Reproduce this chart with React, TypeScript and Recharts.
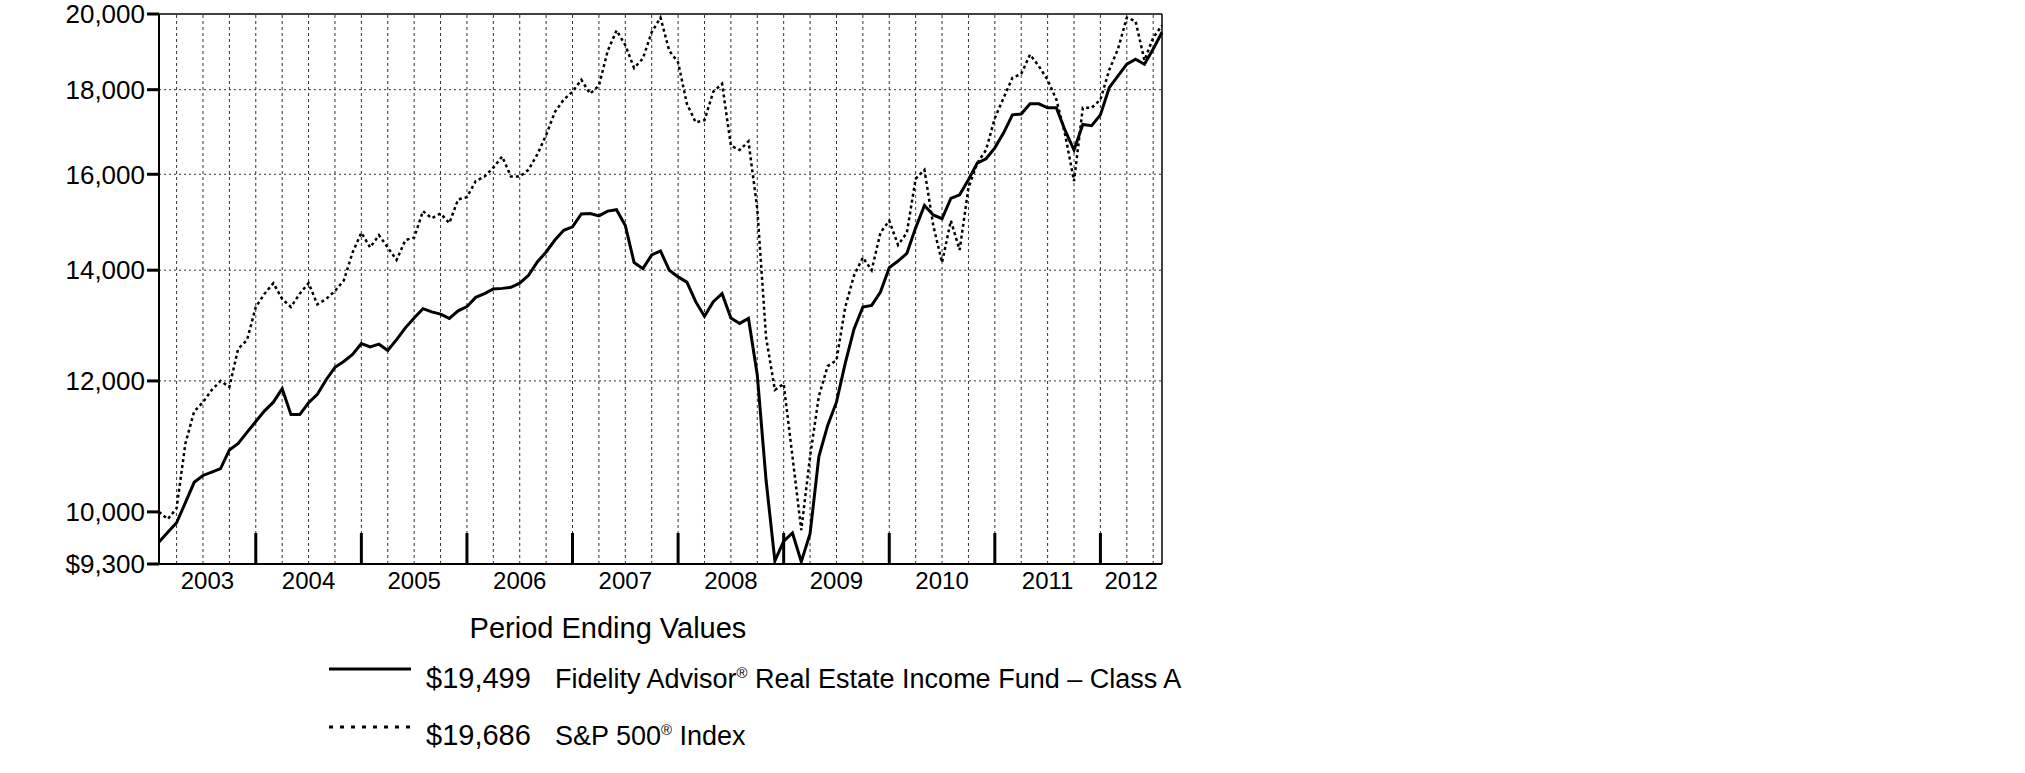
import { LineChart, Line, XAxis, YAxis, ReferenceLine } from 'recharts'

const FONT = '"Liberation Sans", Arial, Helvetica, sans-serif'

// month-end points, Jan 2003 (start) .. Jul 2012
const monthNames = ['Jan', 'Feb', 'Mar', 'Apr', 'May', 'Jun', 'Jul', 'Aug', 'Sep', 'Oct', 'Nov', 'Dec']
const years = ['2003', '2004', '2005', '2006', '2007', '2008', '2009', '2010', '2011', '2012']

const fundValues = [
  9590, 9720, 9850, 10130, 10420, 10520, 10570, 10620, 10900, 11000, 11170, 11340,
  11510, 11650, 11870, 11450, 11450, 11640, 11780, 12020, 12230, 12330, 12450, 12640,
  12580, 12630, 12520, 12710, 12920, 13100, 13270, 13210, 13170, 13090, 13230, 13310,
  13480, 13550, 13640, 13650, 13670, 13750, 13900, 14160, 14360, 14600, 14800, 14870,
  15140, 15150, 15100, 15200, 15230, 14900, 14150, 14030, 14300, 14380, 14000, 13870,
  13770, 13400, 13130, 13400, 13550, 13100, 13000, 13090, 12100, 10450, 9340, 9600,
  9710, 9330, 9700, 10800, 11280, 11650, 12300, 12900, 13300, 13330, 13580, 14050,
  14180, 14330, 14850, 15320, 15120, 15040, 15470, 15550, 15880, 16250, 16350, 16600,
  16950, 17380, 17400, 17650, 17650, 17550, 17550, 17000, 16550, 17150, 17120, 17380,
  18050, 18350, 18650, 18780, 18650, 19050, 19499,
]

const spValues = [
  10000, 9900, 10050, 11000, 11500, 11650, 11850, 12000, 11900, 12550, 12700, 13300,
  13550, 13750, 13450, 13300, 13550, 13750, 13350, 13450, 13600, 13800, 14350, 14750,
  14450, 14700, 14450, 14200, 14600, 14650, 15200, 15050, 15150, 14950, 15450, 15500,
  15850, 15950, 16150, 16400, 15950, 15950, 16100, 16450, 16900, 17450, 17750, 17950,
  18250, 17900, 18100, 19000, 19550, 19150, 18550, 18800, 19500, 19900, 19000, 18700,
  17650, 17200, 17250, 17950, 18150, 16650, 16550, 16750, 15250, 12750, 11850, 11950,
  10800, 9750, 10800, 11750, 12250, 12350, 13300, 13900, 14250, 14000, 14750, 15000,
  14500, 14750, 15900, 16100, 14900, 14150, 15000, 14400, 15700, 16250, 16550, 17300,
  17800, 18300, 18400, 18900, 18600, 18250, 17750, 16900, 15850, 17550, 17550, 17750,
  18500, 19050, 19900, 19800, 18750, 19350, 19686,
]

const yTicks = [9300, 10000, 12000, 14000, 16000, 18000, 20000]
const gridValues = [12000, 14000, 16000, 18000]

const data = fundValues.map((fund, i) => ({
  m: i,
  month: `${monthNames[i % 12]} ${2003 + Math.floor(i / 12)}`,
  fund,
  sp: spValues[i],
}))

const last = data.length - 1
const quarterEnds = data.filter((d) => d.m % 3 === 2).map((d) => d.m)
const yearEnds = data.filter((d) => d.m % 12 === 11).map((d) => d.m)
const yearCenters = years.map((_, k) => (Math.max(0, 12 * k - 1) + Math.min(last, 12 * k + 11)) / 2)

const fmtY = (v: number) => (v === 9300 ? '$9,300' : v.toLocaleString('en-US'))

export default function App() {
  return (
    <div style={{ position: 'absolute', left: 0, top: 0, width: 2025, height: 773, background: '#fff', fontFamily: FONT }}>
      <LineChart width={1200} height={773} data={data} margin={{ top: 14, right: 38, bottom: 169, left: 0 }}>
        <XAxis
          dataKey="m"
          type="number"
          domain={[0, last]}
          ticks={yearCenters}
          interval={0}
          tickFormatter={(_v: number, i: number) => years[i]}
          tickLine={false}
          tickSize={0}
          tickMargin={8}
          height={40}
          axisLine={{ stroke: '#000', strokeWidth: 2 }}
          tick={{ fill: '#000', fontSize: 24, fontFamily: FONT }}
        />
        <YAxis
          type="number"
          scale="log"
          domain={[9300, 20000]}
          allowDataOverflow
          ticks={yTicks}
          interval={0}
          tickFormatter={fmtY}
          width={159}
          tickSize={12}
          tickMargin={2}
          tickLine={{ stroke: '#000', strokeWidth: 3 }}
          axisLine={{ stroke: '#000', strokeWidth: 2 }}
          tick={{ fill: '#000', fontSize: 26, fontFamily: FONT }}
        />
        {gridValues.map((v) => (
          <ReferenceLine key={'h' + v} y={v} stroke="#333" strokeWidth={1} strokeDasharray="2 3" />
        ))}
        {quarterEnds.map((q) => (
          <ReferenceLine key={'q' + q} x={q} stroke="#333" strokeWidth={1} strokeDasharray="3 3" />
        ))}
        {yearEnds.map((b) => (
          <ReferenceLine
            key={'y' + b}
            segment={[{ x: b, y: 9300 }, { x: b, y: 9710 }]}
            stroke="#000"
            strokeWidth={3}
          />
        ))}
        <ReferenceLine y={20000} stroke="#000" strokeWidth={1.5} />
        <ReferenceLine x={last} stroke="#000" strokeWidth={1.5} />
        <Line
          type="linear"
          dataKey="sp"
          stroke="#000"
          strokeWidth={2.5}
          strokeDasharray="3 3"
          dot={false}
          isAnimationActive={false}
        />
        <Line
          type="linear"
          dataKey="fund"
          stroke="#000"
          strokeWidth={3}
          dot={false}
          isAnimationActive={false}
        />
      </LineChart>

      <div style={{ position: 'absolute', left: 0, width: 1216, top: 614, textAlign: 'center', fontSize: 29, lineHeight: '29px', color: '#000' }}>
        Period Ending Values
      </div>

      <svg style={{ position: 'absolute', left: 329, top: 666 }} width={82} height={6}>
        <line x1={0} y1={3} x2={82} y2={3} stroke="#000" strokeWidth={3} />
      </svg>
      <div style={{ position: 'absolute', left: 426, top: 659, lineHeight: '29px', color: '#000', whiteSpace: 'nowrap' }}>
        <span style={{ display: 'inline-block', width: 129, fontSize: 29 }}>$19,499</span>
        <span style={{ fontSize: 27 }}>
          Fidelity Advisor<sup style={{ fontSize: '0.55em' }}>®</sup> Real Estate Income Fund – Class A
        </span>
      </div>

      <svg style={{ position: 'absolute', left: 329, top: 724 }} width={82} height={6}>
        <line x1={0} y1={3} x2={82} y2={3} stroke="#000" strokeWidth={3} strokeDasharray="4 7" />
      </svg>
      <div style={{ position: 'absolute', left: 426, top: 716, lineHeight: '29px', color: '#000', whiteSpace: 'nowrap' }}>
        <span style={{ display: 'inline-block', width: 129, fontSize: 29 }}>$19,686</span>
        <span style={{ fontSize: 27 }}>
          S&amp;P 500<sup style={{ fontSize: '0.55em' }}>®</sup> Index
        </span>
      </div>
    </div>
  )
}
